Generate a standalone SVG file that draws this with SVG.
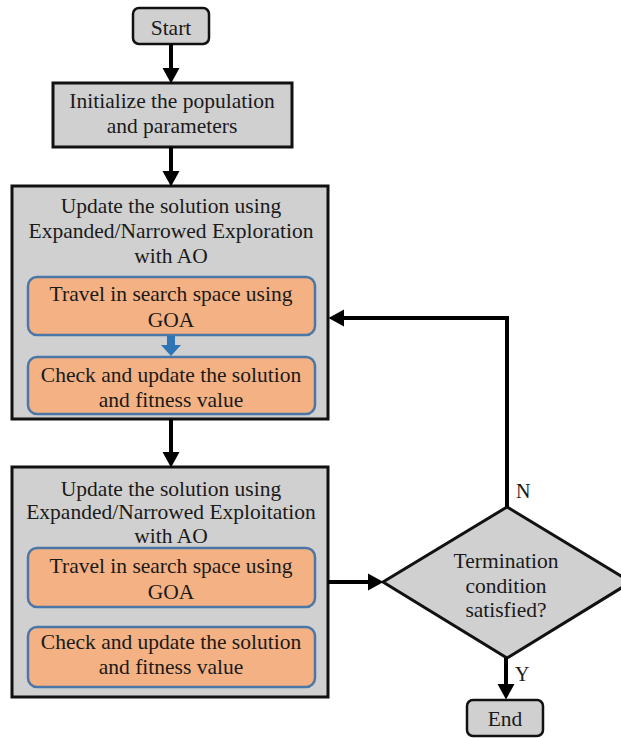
<svg xmlns="http://www.w3.org/2000/svg" width="621" height="738" viewBox="0 0 621 738">
  <style>
    text { font-family: 'Liberation Serif', Tinos, 'Times New Roman', Times, 'DejaVu Serif', serif; font-size: 21.5px; fill: #1a1a1a; text-anchor: middle; }
    .term { fill: #d0d0d0; stroke: #111; stroke-width: 2.5; }
    .proc { fill: #d0d0d0; stroke: #111; stroke-width: 3; }
    .sub { fill: #f4b183; stroke: #4a76a8; stroke-width: 2.5; }
    .dec { fill: #d0d0d0; stroke: #111; stroke-width: 3; stroke-linejoin: miter; }
    .flow { fill: none; stroke: #000; stroke-width: 4; marker-end: url(#head); }
    .label { font-size: 20px; text-anchor: start; }
  </style>
  <defs>
    <marker id="head" markerUnits="userSpaceOnUse" markerWidth="16" markerHeight="18" refX="0" refY="8.5" orient="auto" viewBox="0 0 16 17">
      <path d="M0,0 L15.5,8.5 L0,17 z" fill="#000"/>
    </marker>
  </defs>

  <rect width="621" height="738" fill="#fff"/>

  <g id="start">
    <rect class="term" x="133" y="8" width="76" height="36" rx="6"/>
    <text x="171" y="35">Start</text>
  </g>

  <g id="init">
    <rect class="proc" x="53" y="83" width="239" height="64"/>
    <text x="172" y="108">Initialize the population</text>
    <text x="172" y="133">and parameters</text>
  </g>

  <g id="exploration">
    <rect class="proc" x="12" y="186" width="316" height="233"/>
    <text x="171" y="213">Update the solution using</text>
    <text x="171" y="238">Expanded/Narrowed Exploration</text>
    <text x="171" y="263">with AO</text>
    <g id="explore-travel">
      <rect class="sub" x="28" y="277" width="287" height="58" rx="9"/>
      <text x="171" y="301">Travel in search space using</text>
      <text x="171" y="327">GOA</text>
    </g>
    <path id="explore-step" d="M167,336 H175 V345 H181 L171,356 L161,345 H167 Z" fill="#2e75b6"/>
    <g id="explore-check">
      <rect class="sub" x="28" y="357" width="287" height="57" rx="9"/>
      <text x="171" y="382">Check and update the solution</text>
      <text x="171" y="407">and fitness value</text>
    </g>
  </g>

  <g id="exploitation">
    <rect class="proc" x="12" y="467" width="316" height="230"/>
    <text x="171" y="496">Update the solution using</text>
    <text x="171" y="519">Expanded/Narrowed Exploitation</text>
    <text x="171" y="543">with AO</text>
    <g id="exploit-travel">
      <rect class="sub" x="28" y="548" width="287" height="59" rx="9"/>
      <text x="171" y="573">Travel in search space using</text>
      <text x="171" y="599">GOA</text>
    </g>
    <g id="exploit-check">
      <rect class="sub" x="28" y="627" width="287" height="60" rx="9"/>
      <text x="171" y="649">Check and update the solution</text>
      <text x="171" y="674">and fitness value</text>
    </g>
  </g>

  <g id="termination">
    <polygon class="dec" points="507,507 631,582 507,658 383,582"/>
    <text x="506" y="568">Termination</text>
    <text x="506" y="593">condition</text>
    <text x="506" y="617">satisfied?</text>
  </g>

  <g id="end">
    <rect class="term" x="467" y="700" width="76" height="36" rx="6"/>
    <text x="505" y="726">End</text>
  </g>

  <g id="connectors">
    <path class="flow" d="M171,44 V68"/>
    <path class="flow" d="M171,147 V171"/>
    <path class="flow" d="M171,419 V452"/>
    <path class="flow" d="M328,582 H368"/>
    <path class="flow" d="M507,507 V318 H344"/>
    <path class="flow" d="M506,658 V684"/>
    <text class="label" x="516" y="498">N</text>
    <text class="label" x="515" y="681">Y</text>
  </g>
</svg>
